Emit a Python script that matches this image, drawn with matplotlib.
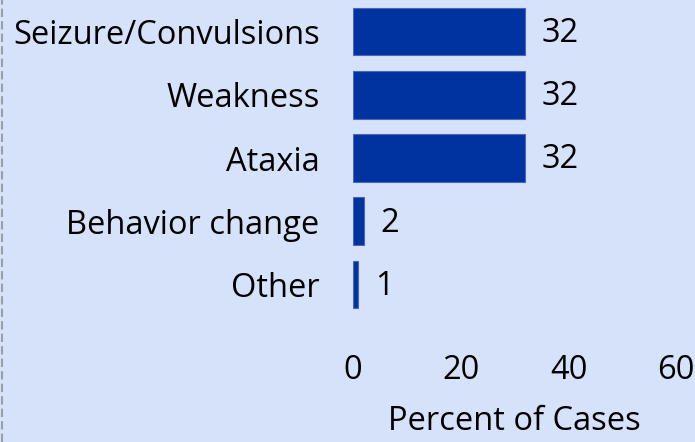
import matplotlib.pyplot as plt
from matplotlib.lines import Line2D

categories = ["Seizure/Convulsions", "Weakness", "Ataxia", "Behavior change", "Other"]
percents = [32, 32, 32, 2, 1]
xticks = [0, 20, 40, 60]

bg = "#D6E2FA"
bar_color = "#0033A0"
fs = 23.5

plt.rcParams['font.family'] = ['Open Sans', 'DejaVu Sans']

fig = plt.figure(figsize=(6.95, 4.42), dpi=100, facecolor=bg)
ax = fig.add_axes([0.508, 0.285, 0.465, 0.715], facecolor=bg)

ypos = list(range(len(categories)))
bars = ax.barh(ypos, percents, height=0.755, color=bar_color,
               edgecolor="#4A66B8", linewidth=0.8)

for b, v in zip(bars, percents):
    ax.text(b.get_width() + 3.0, b.get_y() + b.get_height() / 2 + 0.03, str(v),
            va="center", ha="left", fontsize=fs)

ax.set_yticks(ypos)
ax.set_yticklabels(categories, fontsize=fs)
ax.set_ylim(4.5, -0.5)
ax.set_xlim(0, 60)
ax.set_xticks(xticks)
ax.tick_params(axis="x", labelsize=fs, length=0, pad=27)
ax.tick_params(axis="y", length=0, pad=24)
ax.set_xlabel("Percent of Cases", fontsize=fs, labelpad=13)

for s in ax.spines.values():
    s.set_visible(False)

# dashed frame edge on the left
fig.add_artist(Line2D([0.003, 0.003], [0, 1], transform=fig.transFigure,
                      color="#9A9EA8", linestyle=(0, (4, 2)), linewidth=1.5))

fig.savefig("out.png", dpi=100, facecolor=bg)
